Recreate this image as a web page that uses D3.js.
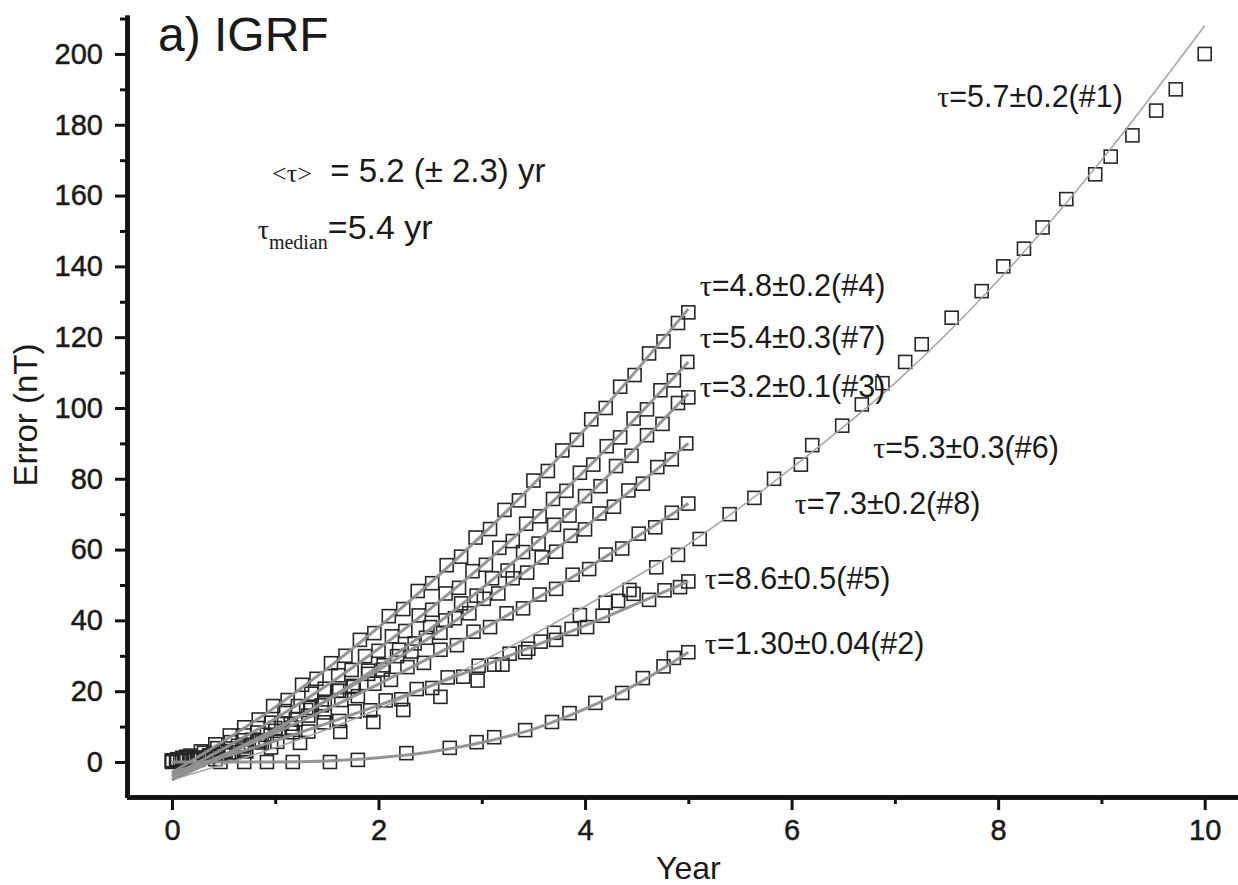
<!DOCTYPE html>
<html>
<head>
<meta charset="utf-8">
<script src="https://cdn.jsdelivr.net/npm/d3@7"></script>
<style>
  body { margin: 0; background: #fff; }
  text { font-family: "Liberation Sans", Arial, Helvetica, sans-serif; fill: #1a1a1a; }
</style>
</head>
<body>
<div id="vis"></div>
<script>
// ---- data ----
const yMajorTicks = [0, 20, 40, 60, 80, 100, 120, 140, 160, 180, 200];
const yMinorTicks = [10, 30, 50, 70, 90, 110, 130, 150, 170, 190, 210];
const xMajorTicks = [0, 2, 4, 6, 8, 10];
const xMinorTicks = [1, 3, 5, 7, 9];

// fitted curves (value at each year)
const fitYears5 = [0, 1, 2, 3, 4, 5];
const fitYears10 = [0, 1, 2, 3, 4, 5, 6, 7, 8, 9, 10];
const fitYearsHalf = [0, 0.5, 1, 1.5, 2, 2.5, 3, 3.5, 4, 4.5, 5];
const fit1 = [-5, 4, 15, 28.5, 44, 61.5, 83, 107, 136, 170, 208];
const fit2 = [0, 0, 0, 0.3, 1.2, 2.8, 5.5, 9.3, 15, 22, 31];
const fit3 = [-5, 9, 27, 49, 74.5, 104];
const fit4 = [-3, 15.5, 38, 64, 94, 128];
const fit5 = [-3, 6, 16, 27, 38.5, 51];
const fit6 = [-5, 9.3, 26, 45, 66.4, 90];
const fit7 = [-4, 12.2, 32, 55.4, 82.4, 113];
const fit8 = [-4, 8.2, 22, 37.4, 54.4, 73];

// measured errors [year, nT]
const s1 = [[0,0.3],[0.22,1.2],[0.45,2.1],[0.7,3.2],[0.96,4.1],[1.24,5.4],[1.63,8.5],[1.95,11.3],[2.24,14.7],[2.6,18.4],
  [2.96,23],[3.2,27.5],[3.45,32],[3.7,36.5],[3.95,41.5],[4.2,45],[4.43,48.6],[4.69,55],[4.9,58.5],[5.11,63],
  [5.4,70],[5.64,74.6],[5.83,80],[6.09,84],[6.2,89.5],[6.49,95],[6.68,101],[6.88,107],[7.1,113],[7.26,118],
  [7.55,125.5],[7.84,133],[8.05,140],[8.25,145],[8.43,151],[8.66,159],[8.94,166],[9.09,171],[9.3,177],[9.53,184],
  [9.72,190],[10,200]];
const s2 = [[0,0],[0.47,0],[0.7,0],[0.92,0],[1.17,0],[1.53,0],[1.8,0.6],[2.27,2.5],[2.69,4],[2.95,5.6],
  [3.12,7],[3.42,9],[3.68,11.3],[3.85,13.8],[4.1,16.7],[4.36,19.5],[4.56,23.7],[4.76,27],[4.86,29.4],[5,31]];
const s3 = [[0.1,1.2],[0.25,0.6],[0.4,2.3],[0.55,2],[0.7,4.9],[0.85,6.1],[1,9.6],[1.15,10.8],[1.3,14.7],[1.45,16],
  [1.6,20.1],[1.75,21.5],[1.9,25.8],[2.05,27.3],[2.2,31.7],[2.35,33.5],[2.5,38.1],[2.65,40],[2.8,44.8],[2.95,47],
  [3.1,51.9],[3.25,54.1],[3.4,59.3],[3.55,61.7],[3.7,67],[3.85,69.6],[4,75.1],[4.15,77.9],[4.3,83.6],[4.45,86.5],
  [4.6,92.3],[4.75,95.5],[4.9,101.4],[5,103]];
const s4 = [[0,0.5],[0.14,1.5],[0.28,3],[0.42,5],[0.56,7.5],[0.7,9.8],[0.84,12],[0.98,15.8],[1.12,17.5],[1.26,21.8],
  [1.4,23.5],[1.54,27.9],[1.68,30],[1.82,34.5],[1.96,36.4],[2.1,41.2],[2.24,43.2],[2.38,48.3],[2.52,50.5],[2.66,55.6],
  [2.8,58],[2.94,63.4],[3.08,65.8],[3.22,71.2],[3.36,73.9],[3.5,79.5],[3.64,82.2],[3.78,88],[3.92,91],[4.06,96.8],
  [4.2,100],[4.34,106],[4.48,109.3],[4.62,115.4],[4.76,118.8],[4.9,124],[5,127]];
const s5 = [[0.12,0.5],[0.27,1.2],[0.42,0.8],[0.57,2.7],[0.72,3],[0.87,5.5],[1.02,5.7],[1.17,8.4],[1.32,8.6],[1.47,11.2],
  [1.62,11.6],[1.77,14.3],[1.92,14.6],[2.07,17.4],[2.22,17.7],[2.37,20.6],[2.52,20.9],[2.67,23.9],[2.82,24.1],[2.97,27.2],
  [3.12,27.5],[3.27,30.6],[3.42,31],[3.57,34],[3.72,34.5],[3.87,37.6],[4.02,38.1],[4.17,41.3],[4.32,45.5],[4.47,47.5],
  [4.62,45.8],[4.77,48.5],[4.92,49.4],[5,51]];
const s6 = [[0.08,0.3],[0.22,1.1],[0.36,1.9],[0.5,2.9],[0.64,4.6],[0.78,6.3],[0.92,7.7],[1.06,10.9],[1.2,12],[1.34,15.3],
  [1.48,16.6],[1.62,20.1],[1.76,21.2],[1.9,24.9],[2.04,26.1],[2.18,29.9],[2.32,31.2],[2.46,35.1],[2.6,36.5],[2.74,40.6],
  [2.88,42],[3.02,46.1],[3.16,47.6],[3.3,51.9],[3.44,53.5],[3.58,57.8],[3.72,59.4],[3.86,63.9],[4,65.7],[4.14,70.2],
  [4.28,72.1],[4.42,76.7],[4.56,78.6],[4.7,83.3],[4.84,85.5],[4.98,90]];
const s7 = [[0.05,0.8],[0.18,1.8],[0.31,2.6],[0.44,3.9],[0.57,5.6],[0.7,7.5],[0.83,9.6],[0.96,11.1],[1.09,14.4],[1.22,15.8],
  [1.35,19.3],[1.48,20.7],[1.61,24.5],[1.74,26],[1.87,29.9],[2,31.4],[2.13,35.5],[2.26,37],[2.39,41.4],[2.52,43],
  [2.65,47.6],[2.78,49.2],[2.91,53.9],[3.04,55.7],[3.17,60.5],[3.3,62.4],[3.43,67.3],[3.56,69.4],[3.69,74.3],[3.82,76.6],
  [3.95,81.7],[4.08,84],[4.21,89.2],[4.34,91.7],[4.47,97],[4.6,99.6],[4.73,105],[4.86,107.8],[4.99,113]];
const s8 = [[0.04,0.4],[0.2,0.9],[0.36,1.6],[0.52,3.1],[0.68,4.4],[0.84,6],[1,8.8],[1.16,9.7],[1.32,13.1],[1.48,14],
  [1.64,17.5],[1.8,18.6],[1.96,22.1],[2.12,23.2],[2.28,26.8],[2.44,28],[2.6,31.7],[2.76,33],[2.92,36.8],[3.08,38.1],
  [3.24,42],[3.4,43.4],[3.56,47.3],[3.72,48.9],[3.88,52.9],[4.04,54.5],[4.2,58.6],[4.36,60.3],[4.52,64.5],[4.68,66.3],
  [4.84,70.4],[5,73]];

const tauLabels = ["τ=5.7±0.2(#1)", "τ=1.30±0.04(#2)", "τ=3.2±0.1(#3)", "τ=4.8±0.2(#4)",
                   "τ=8.6±0.5(#5)", "τ=5.3±0.3(#6)", "τ=5.4±0.3(#7)", "τ=7.3±0.2(#8)"];

// ---- chart ----
const width = 1238, height = 885;
const svg = d3.create("svg").attr("width", width).attr("height", height);
svg.append("rect").attr("width", width).attr("height", height).attr("fill", "#fff");

const x = d3.scaleLinear().domain([-0.44, 10.4]).range([126.5, 1246]);
const y = d3.scaleLinear().domain([-10, 211]).range([797.4, 15]);

// squares first, fit lines on top
const series = [s1, s2, s3, s4, s5, s6, s7, s8];
const pts = svg.append("g");
series.forEach(s => {
  pts.append("g").selectAll("rect").data(s).join("rect")
    .attr("x", d => x(d[0]) - 6.5)
    .attr("y", d => y(d[1]) - 6.5)
    .attr("width", 13).attr("height", 13)
    .attr("fill", "none")
    .attr("stroke", "#262626")
    .attr("stroke-width", 1.6);
});

const line = d3.line().x(d => x(d[0])).y(d => y(d[1])).curve(d3.curveMonotoneX);
const fits = [
  {yrs: fitYears10, v: fit1, w: 1.6, c: "#a3a3a3"},
  {yrs: fitYearsHalf, v: fit2, w: 3, c: "#8f8f8f"},
  {yrs: fitYears5, v: fit3, w: 3, c: "#8f8f8f"},
  {yrs: fitYears5, v: fit4, w: 3, c: "#8f8f8f"},
  {yrs: fitYears5, v: fit5, w: 3, c: "#8f8f8f"},
  {yrs: fitYears5, v: fit6, w: 3, c: "#8f8f8f"},
  {yrs: fitYears5, v: fit7, w: 3, c: "#8f8f8f"},
  {yrs: fitYears5, v: fit8, w: 3, c: "#8f8f8f"}
];
fits.forEach(f => {
  svg.append("path")
    .datum(f.yrs.map((t, i) => [t, f.v[i]]))
    .attr("d", line)
    .attr("fill", "none")
    .attr("stroke", f.c)
    .attr("stroke-width", f.w)
    .attr("opacity", 0.95);
});

// axes
const styleAxis = g => {
  g.select(".domain").attr("stroke", "#111").attr("stroke-width", 4.5);
  g.selectAll(".tick line").attr("stroke", "#111").attr("stroke-width", 3);
  g.selectAll(".tick text").attr("fill", "#1a1a1a")
    .attr("stroke", "#1a1a1a").attr("stroke-width", 0.5)
    .attr("font-family", "Liberation Sans, Arial, sans-serif").attr("font-size", 29);
};
svg.append("g").attr("transform", "translate(127,0)")
  .call(d3.axisLeft(y).tickValues(yMinorTicks).tickSize(7).tickSizeOuter(0).tickFormat(""))
  .call(styleAxis);
svg.append("g").attr("transform", "translate(127,0)")
  .call(d3.axisLeft(y).tickValues(yMajorTicks).tickSize(12).tickSizeOuter(0).tickPadding(12))
  .call(styleAxis);
svg.append("g").attr("transform", "translate(0,797)")
  .call(d3.axisBottom(x).tickValues(xMinorTicks).tickSize(7).tickSizeOuter(0).tickFormat(""))
  .call(styleAxis);
svg.append("g").attr("transform", "translate(0,797)")
  .call(d3.axisBottom(x).tickValues(xMajorTicks).tickSize(13).tickSizeOuter(0).tickPadding(9))
  .call(styleAxis);

svg.append("text").attr("x", x(5)).attr("y", 879)
  .attr("text-anchor", "middle").attr("font-size", 32).text("Year");
svg.append("text").attr("transform", "translate(37," + y(98) + ") rotate(-90)")
  .attr("text-anchor", "middle").attr("font-size", 33).text("Error (nT)");

// title and summary
svg.append("text").attr("x", x(-0.135)).attr("y", y(200.8))
  .attr("font-size", 48).text("a) IGRF");

const serif = "Liberation Serif, Times New Roman, serif";
const mean = svg.append("text").attr("x", x(0.97)).attr("y", y(167)).attr("dy", "0.35em")
  .attr("font-size", 33).attr("xml:space", "preserve");
mean.append("tspan").attr("font-family", serif).attr("font-size", 26).text("<τ>");
mean.append("tspan").text("  = 5.2 (± 2.3) yr");

const med = svg.append("text").attr("x", x(0.83)).attr("y", y(151)).attr("dy", "0.35em").attr("font-size", 34);
med.append("tspan").attr("font-family", serif).attr("font-size", 28).text("τ");
med.append("tspan").attr("font-family", serif).attr("font-size", 20).attr("dy", 10).text("median");
med.append("tspan").attr("dy", -10).text("=5.4 yr");

// tau labels, positioned in data space [year, nT]
const labelAt = [[7.41, 187.9], [5.16, 33.6], [5.11, 106.2], [5.11, 134.7],
                 [5.16, 52], [6.79, 89], [5.11, 120], [6.03, 73.2]];
tauLabels.forEach((lab, i) => {
  const t = svg.append("text")
    .attr("x", x(labelAt[i][0])).attr("y", y(labelAt[i][1]))
    .attr("dy", "0.35em").attr("font-size", 30.5);
  t.append("tspan").attr("font-family", serif).attr("font-size", 30).text(lab[0]);
  t.append("tspan").text(lab.slice(1));
});

document.getElementById("vis").appendChild(svg.node());
</script>
</body>
</html>
